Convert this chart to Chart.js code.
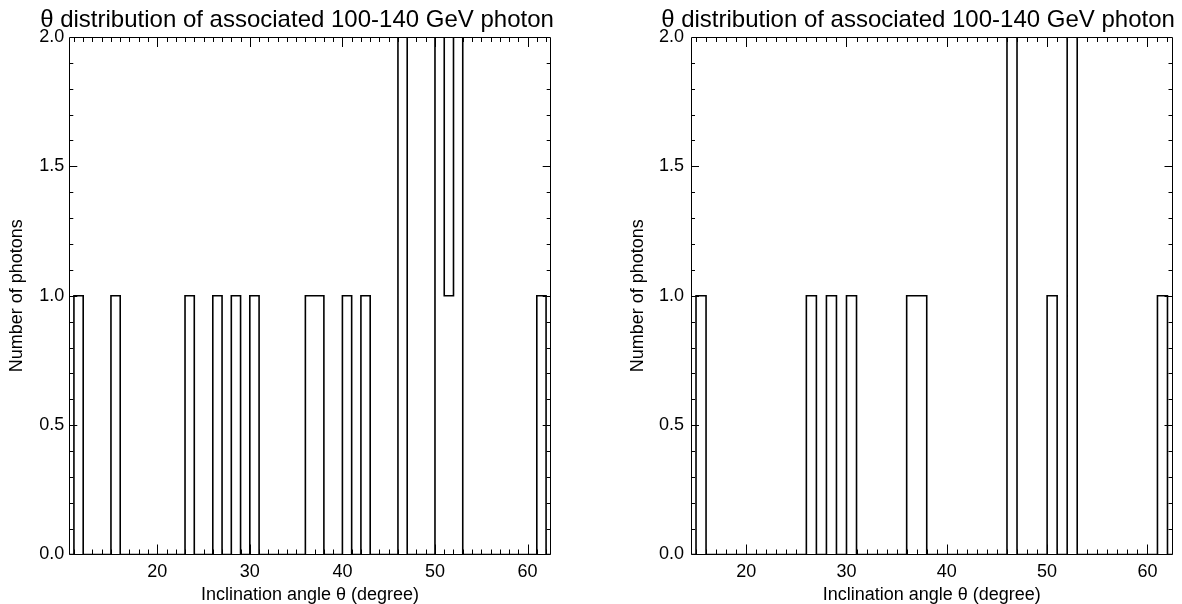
<!DOCTYPE html>
<html>
<head>
<meta charset="utf-8">
<script src="https://cdn.jsdelivr.net/npm/chart.js@4.4.1/dist/chart.umd.min.js"></script>
<style>
  html, body { margin: 0; padding: 0; background: #fff; overflow: hidden; }
  body { width: 1182px; height: 604px; position: relative; }
  canvas { position: absolute; top: 0; }
  #leftChart { left: 0; }
  #rightChart { left: 624px; }
</style>
</head>
<body>
<canvas id="leftChart" width="594" height="604"></canvas>
<canvas id="rightChart" width="588" height="604"></canvas>
<script>
/* ========= Data ========= */
const titleText = "θ distribution of associated 100-140 GeV photon";
const xTitleText = "Inclination angle θ (degree)";
const yTitleText = "Number of photons";

// left panel: lower edge of each 1-degree bin and its photon count
const leftBins = [11, 15, 23, 26, 28, 30, 36, 37, 40, 42, 46, 50, 51, 52, 61];
const leftCounts = [1, 1, 1, 1, 1, 1, 1, 1, 1, 1, 2, 2, 1, 2, 1];
const leftRange = [10.5, 62.5];

// right panel
const rightBins = [15, 26, 28, 30, 36, 37, 46, 50, 52, 61];
const rightCounts = [1, 1, 1, 1, 1, 1, 2, 1, 2, 1];
const rightRange = [14.5, 62.5];

const xTickLabels = [20, 30, 40, 50, 60];
const yTickLabels = [0, 0.5, 1.0, 1.5, 2.0];
const yRange = [0, 2];

/* ========= Helpers ========= */
Chart.defaults.font.family = "'Liberation Sans', Arial, sans-serif";
Chart.defaults.color = "#000";

// outline points for a step histogram (value of point b covers [b, b+1])
function histPoints(bins, counts, range) {
  const lo = Math.floor(range[0]);
  const hi = Math.ceil(range[1]);
  const pts = [];
  for (let b = lo; b < hi; b++) {
    const i = bins.indexOf(b);
    pts.push({ x: b, y: i >= 0 ? counts[i] : 0 });
  }
  pts.push({ x: hi, y: 0 });
  return pts;
}

// IDL-like frame with inward ticks on all four sides
const frameTicks = {
  id: "frameTicks",
  afterDatasetsDraw(chart) {
    const { ctx, chartArea: a, scales: { x, y } } = chart;
    ctx.save();
    ctx.strokeStyle = "#000";
    ctx.lineWidth = 1;
    ctx.beginPath();
    ctx.rect(Math.round(a.left) + 0.5, Math.round(a.top) + 0.5,
      Math.round(a.right) - Math.round(a.left) - 1, Math.round(a.bottom) - Math.round(a.top) - 1);
    for (let v = Math.ceil(x.min); v <= x.max; v++) {
      const px = Math.round(x.getPixelForValue(v)) + 0.5;
      const len = v % 10 === 0 ? 10 : 5;
      ctx.moveTo(px, a.bottom); ctx.lineTo(px, a.bottom - len);
      ctx.moveTo(px, a.top); ctx.lineTo(px, a.top + len);
    }
    for (let i = 1; i < 20; i++) {
      const py = Math.round(y.getPixelForValue(i / 10)) + 0.5;
      const len = i % 5 === 0 ? 8 : 4;
      ctx.moveTo(a.left, py); ctx.lineTo(a.left + len, py);
      ctx.moveTo(a.right, py); ctx.lineTo(a.right - len, py);
    }
    ctx.stroke();
    ctx.restore();
  }
};

function makeChart(id, bins, counts, range, leftW, rightW, yTitlePad, yTickPad) {
  return new Chart(document.getElementById(id), {
    type: "line",
    data: {
      datasets: [{
        data: histPoints(bins, counts, range),
        borderColor: "#000",
        borderWidth: 1.6,
        pointRadius: 0,
        fill: false,
        stepped: "before",
      }],
    },
    options: {
      responsive: false,
      animation: false,
      devicePixelRatio: 1,
      layout: { padding: 0 },
      plugins: {
        legend: { display: false },
        tooltip: { enabled: false },
        title: {
          display: true,
          text: titleText,
          font: { size: 24, weight: "normal", lineHeight: 1 },
          padding: { top: 8, bottom: 5 },
          color: "#000",
        },
      },
      scales: {
        x: {
          type: "linear",
          position: "bottom",
          min: range[0],
          max: range[1],
          afterBuildTicks: (s) => { s.ticks = xTickLabels.map((v) => ({ value: v })); },
          afterFit: (s) => { s.height = 49.5; },
          grid: { display: false, drawTicks: false },
          border: { display: false },
          ticks: { font: { size: 18 }, padding: 7, maxRotation: 0, autoSkip: false },
          title: {
            display: true,
            text: xTitleText,
            font: { size: 18, lineHeight: 1 },
            padding: { top: 0, bottom: 0 },
          },
        },
        y: {
          position: "left",
          min: yRange[0],
          max: yRange[1],
          afterBuildTicks: (s) => { s.ticks = yTickLabels.map((v) => ({ value: v })); },
          afterFit: (s) => { s.width = leftW; },
          grid: { display: false, drawTicks: false },
          border: { display: false },
          ticks: { font: { size: 18 }, padding: yTickPad, callback: (v) => Number(v).toFixed(1) },
          title: {
            display: true,
            text: yTitleText,
            font: { size: 18, lineHeight: 1.2 },
            padding: { top: yTitlePad, bottom: 0 },
          },
        },
        yRight: {
          position: "right",
          min: yRange[0],
          max: yRange[1],
          afterFit: (s) => { s.width = rightW; },
          grid: { display: false, drawTicks: false },
          border: { display: false },
          ticks: { display: false },
        },
      },
    },
    plugins: [frameTicks],
  });
}

makeChart("leftChart", leftBins, leftCounts, leftRange, 69.3, 43.3, 6, 5);
makeChart("rightChart", rightBins, rightCounts, rightRange, 67, 39.5, 3, 7);
</script>
</body>
</html>
